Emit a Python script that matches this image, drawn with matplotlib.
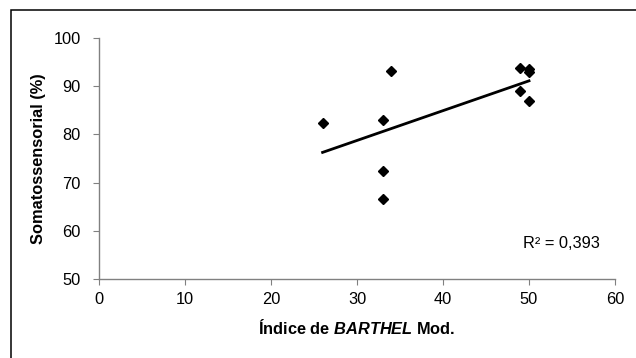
import matplotlib.pyplot as plt
import numpy as np
from matplotlib.patches import Rectangle

plt.rcParams['font.family'] = ['Liberation Sans', 'DejaVu Sans']
plt.rcParams['mathtext.fontset'] = 'custom'
plt.rcParams['mathtext.rm'] = 'Liberation Sans'
plt.rcParams['mathtext.it'] = 'Liberation Sans:italic'
plt.rcParams['mathtext.bf'] = 'Liberation Sans:bold'
plt.rcParams['mathtext.bfit'] = 'Liberation Sans:italic:bold'

# Daten
barthel = [26, 33, 33, 33, 34, 49, 49, 50, 50, 50]
somato = [82.3, 83.0, 72.4, 66.5, 93.2, 93.7, 89.0, 93.5, 93.0, 87.0]
r2_text = "R² = 0,393"

x = np.array(barthel)
y = np.array(somato)
coef = np.polyfit(x, y, 1)
xl = np.array([x.min(), x.max()])

fs = 11.8

fig = plt.figure(figsize=(6.36, 3.58), dpi=100)
ax = fig.add_axes([99/636, 1 - 279/358, (615-99)/636, (279-38)/358])

# aeusserer Rahmen
fig.patches.append(Rectangle((11/636, -0.1), 1.2, 1 - 10/358 + 0.1,
                             transform=fig.transFigure, fill=False,
                             edgecolor="black", linewidth=1.1))

ax.plot(x, y, linestyle="none", marker="D", markersize=5.5, color="black")
ax.plot(xl, np.polyval(coef, xl), color="black", linewidth=2)

ax.set_xlim(0, 60)
ax.set_ylim(50, 100)
ax.set_xticks(range(0, 61, 10))
ax.set_yticks(range(50, 101, 10))

for s in ["top", "right"]:
    ax.spines[s].set_visible(False)
for s in ["left", "bottom"]:
    ax.spines[s].set_color("#808080")
    ax.spines[s].set_linewidth(1)
ax.tick_params(direction="out", length=4, color="#808080", labelsize=fs)
ax.tick_params(axis="x", pad=5)
ax.tick_params(axis="y", pad=9)

ax.set_xlabel("Índice de $\\bfit{BARTHEL}$ Mod.", fontsize=fs, fontweight="bold",
              va="center")
ax.xaxis.set_label_coords(0.5, -0.203)
ax.set_ylabel("Somatossensorial (%)", fontsize=fs, fontweight="bold",
              va="center")
ax.yaxis.set_label_coords(-0.118, 0.5)

ax.text(49.3, 57.3, r2_text, fontsize=fs, va="center", ha="left")

plt.savefig("out.png", dpi=100)
